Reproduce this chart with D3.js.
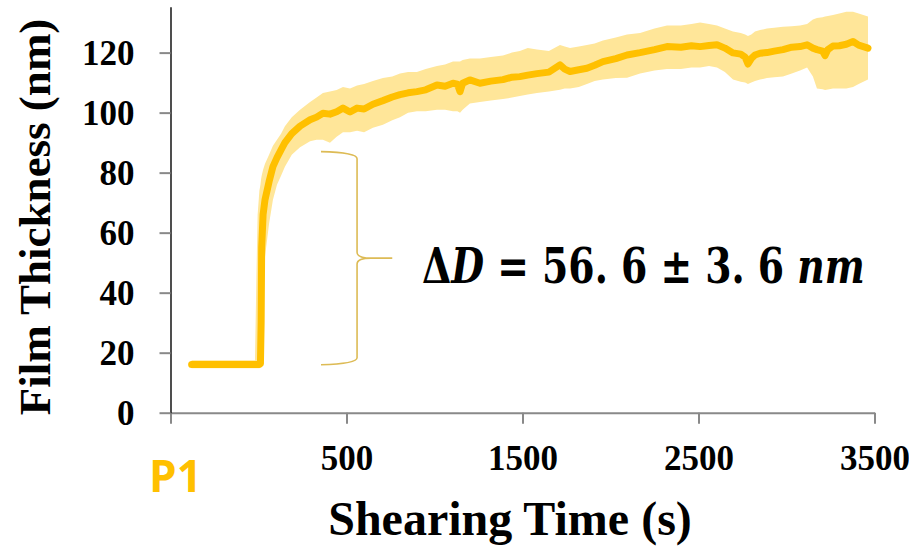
<!DOCTYPE html>
<html>
<head>
<meta charset="utf-8">
<script src="https://cdn.jsdelivr.net/npm/d3@7"></script>
<style>
  html, body { margin: 0; padding: 0; background: #fff; }
  svg { display: block; }
</style>
</head>
<body>
<svg id="chart" width="909" height="546"></svg>
<script>
// Shearing time (s) of each sample
const time = [-380, -20, -12, -5, 5, 11, 15, 18, 26, 37, 60, 82, 105, 128, 150, 189, 236, 293, 330, 366,
  406, 444, 480, 520, 560, 600, 650, 707, 760, 804, 850, 900, 950, 1014, 1060, 1105, 1130, 1145, 1160, 1201,
  1258, 1320, 1389, 1440, 1485, 1530, 1582, 1650, 1713, 1740, 1770, 1820, 1866, 1910, 1957, 2030, 2094, 2168, 2250, 2321,
  2400, 2460, 2509, 2560, 2605, 2650, 2696, 2740, 2765, 2781, 2800, 2821, 2850, 2889, 2930, 2980, 3030, 3077, 3117, 3150,
  3173, 3205, 3219, 3235, 3264, 3300, 3340, 3378, 3410, 3463];

// Mean film thickness (nm)
const thickness = [16.1, 16.1, 16.1, 16.1, 16.1, 16.3, 30, 55, 66, 71, 77, 82, 85, 87.6, 90, 93, 95.5, 97.6, 98.5, 99.8,
  99.5, 100.3, 101.5, 100.2, 101.5, 101.2, 102.8, 104, 105.2, 106, 106.6, 107, 107.6, 109.2, 108.8, 109.8, 109.5, 107, 109.8, 110.9,
  109.8, 110.5, 111, 111.8, 112, 112.5, 113, 113.5, 115.9, 114.5, 113.7, 114.3, 114.8, 115.8, 117, 118, 119.2, 120, 121, 122,
  121.8, 122.3, 122, 122.4, 122.6, 121.5, 119.9, 119.5, 118.5, 116.2, 118, 119.2, 119.8, 120, 120.5, 121, 121.8, 122, 122.6, 121.5,
  121, 120.5, 119, 121, 122.2, 122.3, 122.8, 123.7, 122.5, 121.5];

// Lower edge of the spread (nm)
const lowerBound = [14.8, 14.8, 14.8, 14.8, 14.8, 15, 18, 25, 40, 52, 63, 71, 76, 79, 82, 86, 88.5, 90.5, 91, 91,
  90, 92, 93.5, 93.5, 94, 93.5, 95, 96, 97.5, 98.5, 100, 100.5, 100.5, 101, 101, 100.5, 100.5, 100, 101, 103,
  103.5, 104, 104.5, 105, 105.5, 106, 106.5, 107, 107.6, 108, 108, 108.5, 109.5, 110.5, 111, 111.5, 111.6, 113, 114, 114.5,
  114.5, 115, 115, 115.5, 115, 113.5, 111, 110.3, 110, 109.5, 110, 110.5, 111, 111.5, 111.8, 112, 113, 114, 115, 112,
  108, 107.8, 107.5, 107.7, 108, 108, 108, 108.5, 109.5, 111];

// Upper edge of the spread (nm)
const upperBound = [17.5, 17.5, 45, 66, 74, 76, 78, 79, 81, 83, 86, 89, 91, 93, 95.5, 98.5, 101, 103.5, 105, 106.5,
  107, 107.5, 108.5, 108, 109, 109.5, 110.5, 111.5, 112, 113, 113.5, 113.5, 114.5, 115.5, 116, 117, 117, 117, 117.5, 118,
  118, 118.5, 119, 120, 120.5, 121.5, 121, 120.5, 122.5, 122, 121.5, 122, 122.5, 123, 124, 125, 126, 126.5, 128, 129,
  129, 129.5, 130, 129.5, 129, 128, 127, 126.5, 126, 125.5, 126, 127, 127.5, 128, 128.3, 128.6, 128.8, 129, 129.5, 131,
  131.5, 131.8, 132, 132.2, 132.5, 133, 133.6, 133.6, 133, 132];

// Axis ticks
const xTicks = [-500, 500, 1500, 2500, 3500];
const xTickLabels = ["", "500", "1500", "2500", "3500"];
const yTicks = [0, 20, 40, 60, 80, 100, 120];

// Brace marking the thickness increase: time of arm tips, spine, point; thickness span
const braceTimes = [355, 560, 760];
const braceRange = [16, 87];
const braceLabel = ["\u0394", "D", " = 56. 6 \u00B1 3. 6 ", "nm"];

const series = time.map((t, i) => ({ t, v: thickness[i], lo: lowerBound[i], hi: upperBound[i] }));

const svg = d3.select("#chart");
const serif = "'Liberation Serif', 'Times New Roman', serif";

const x = d3.scaleLinear().domain([-500, 3500]).range([170.5, 874.5]);
const y = d3.scaleLinear().domain([0, 135.3]).range([412.7, 6.7]);

// Spread band
svg.append("path")
  .datum(series)
  .attr("fill", "#FFE699")
  .attr("d", d3.area().x(d => x(d.t)).y0(d => y(d.lo)).y1(d => y(d.hi)));

// Mean curve
svg.append("path")
  .datum(series)
  .attr("fill", "none")
  .attr("stroke", "#FFC000")
  .attr("stroke-width", 7)
  .attr("stroke-linejoin", "round")
  .attr("stroke-linecap", "round")
  .attr("d", d3.line().x(d => x(d.t)).y(d => y(d.v)));

// X axis
const gx = svg.append("g")
  .attr("transform", `translate(0,${y(0)})`)
  .call(d3.axisBottom(x).tickValues(xTicks).tickSize(11).tickSizeOuter(0)
    .tickFormat((d, i) => xTickLabels[i]));
gx.select(".domain").attr("stroke", "#898989").attr("stroke-width", 2);
gx.selectAll(".tick line").attr("stroke", "#898989").attr("stroke-width", 2);
gx.selectAll(".tick text")
  .attr("y", 0).attr("dy", 0)
  .attr("transform", "translate(0,57)")
  .style("font-family", serif).style("font-weight", "bold").style("font-size", "35px").attr("fill", "#000");

// Y axis
const gy = svg.append("g")
  .attr("transform", `translate(${x(-500)},0)`)
  .call(d3.axisLeft(y).tickValues(yTicks).tickSize(11).tickSizeOuter(0));
gy.select(".domain").attr("stroke", "#222").attr("stroke-width", 1.6);
gy.selectAll(".tick line").attr("stroke", "#898989").attr("stroke-width", 2);
gy.selectAll(".tick text")
  .attr("x", -36).attr("dy", "0.34em")
  .style("font-family", serif).style("font-weight", "bold").style("font-size", "35px").attr("fill", "#000");

// Axis titles
svg.append("text")
  .attr("x", 510).attr("y", 535)
  .attr("text-anchor", "middle")
  .style("font-family", serif).style("font-weight", "bold").style("font-size", "48px")
  .text("Shearing Time (s)");

svg.append("text")
  .attr("transform", "translate(50,217) rotate(-90)")
  .attr("text-anchor", "middle")
  .style("font-family", serif).style("font-weight", "bold").style("font-size", "45px")
  .text("Film Thickness (nm)");

// Panel tag
svg.append("text")
  .attr("x", 149).attr("y", 492)
  .style("font-family", "'Open Sans', sans-serif").style("font-weight", "bold").style("font-size", "44px")
  .attr("fill", "#FFC000")
  .text("P1");

// Brace
const bxTip = x(braceTimes[0]), bxSpine = x(braceTimes[1]), bxPoint = x(braceTimes[2]);
const byTop = y(braceRange[1]), byBot = y(braceRange[0]), byMid = (byTop + byBot) / 2;
const brace = d3.path();
brace.moveTo(bxTip, byTop);
brace.quadraticCurveTo(bxSpine, byTop + 1, bxSpine, byTop + 7);
brace.lineTo(bxSpine, byMid - 6);
brace.quadraticCurveTo(bxSpine, byMid, bxSpine + 14, byMid);
brace.lineTo(bxPoint, byMid);
brace.moveTo(bxSpine + 14, byMid);
brace.quadraticCurveTo(bxSpine, byMid, bxSpine, byMid + 6);
brace.lineTo(bxSpine, byBot - 7);
brace.quadraticCurveTo(bxSpine, byBot - 1, bxTip, byBot);
svg.append("path")
  .attr("d", brace.toString())
  .attr("fill", "none")
  .attr("stroke", "#DDBB55")
  .attr("stroke-width", 1.6);

// Increase label
const lbl = svg.append("text")
  .attr("x", 422).attr("y", 283)
  .attr("xml:space", "preserve")
  .style("font-family", "'DejaVu Serif', serif").style("font-weight", "bold").style("font-size", "48px");
lbl.selectAll("tspan").data(braceLabel).join("tspan")
  .style("font-style", (d, i) => (i === 1 || i === 3) ? "italic" : "normal")
  .style("white-space", "pre")
  .text(d => d);
const w = lbl.node().getComputedTextLength();
lbl.attr("transform", `translate(422,0) scale(${443 / w},1) translate(-422,0)`);
</script>
</body>
</html>
